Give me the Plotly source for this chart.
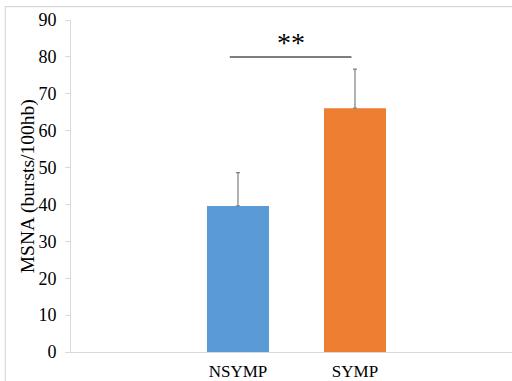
import plotly.graph_objects as go

categories = ["NSYMP", "SYMP"]
values = [39.6, 66.1]
errors_up = [9.0, 10.6]
colors = ["#5b9bd5", "#ed7d31"]
y_ticks = [0, 10, 20, 30, 40, 50, 60, 70, 80, 90]
y_title = "MSNA (bursts/100hb)"
sig_label = "**"
sig_level = 80
sig_from = -0.07
sig_to = 0.97

fig = go.Figure()
fig.add_trace(go.Bar(
    x=categories, y=values, width=0.53,
    marker=dict(color=colors, line=dict(width=0)),
    error_y=dict(type="data", symmetric=False, array=errors_up,
                 arrayminus=[0 for _ in values],
                 color="#7f7f7f", thickness=1.2, width=2),
    showlegend=False,
))

fig.add_shape(type="line", xref="x", yref="y",
              x0=sig_from, x1=sig_to, y0=sig_level, y1=sig_level,
              line=dict(color="#7f7f7f", width=2))
fig.add_annotation(x=(sig_from + sig_to) / 2, y=sig_level - 0.8, xref="x", yref="y",
                   text=sig_label, showarrow=False, yanchor="bottom",
                   font=dict(family="Liberation Serif", size=28, color="#000000"))

# y-axis title as rotated annotation for precise placement
fig.add_annotation(x=-0.097, y=0.5, xref="paper", yref="paper",
                   text=y_title, textangle=-90, showarrow=False,
                   xanchor="center", yanchor="middle",
                   font=dict(family="Liberation Serif", size=19.5, color="#000000"))

# chart frame
fig.add_shape(type="rect", xref="paper", yref="paper",
              x0=-0.149, x1=1.05, y0=-0.2, y1=1.04,
              line=dict(color="#d9d9d9", width=1.2), fillcolor="rgba(0,0,0,0)")

fig.update_layout(
    width=512, height=381,
    margin=dict(l=71, r=0, t=20, b=29, autoexpand=False),
    paper_bgcolor="white", plot_bgcolor="white",
    font=dict(family="Liberation Serif", color="#000000"),
    xaxis=dict(type="category", range=[-1.427, 2.342], automargin=False,
               showline=True, linecolor="#d9d9d9", linewidth=1,
               ticks="", tickfont=dict(size=17), ticklabelstandoff=4,
               showgrid=False, zeroline=False),
    yaxis=dict(range=[0, 90], tickvals=y_ticks, automargin=False,
               showline=True, linecolor="#d9d9d9", linewidth=1,
               ticks="outside", ticklen=5, tickcolor="#d9d9d9",
               tickfont=dict(size=18), ticklabelstandoff=5,
               showgrid=False, zeroline=False),
)

fig.write_html("out.html", config={"displayModeBar": False},
               post_script="document.body.style.margin='0';document.body.style.overflow='hidden';")
